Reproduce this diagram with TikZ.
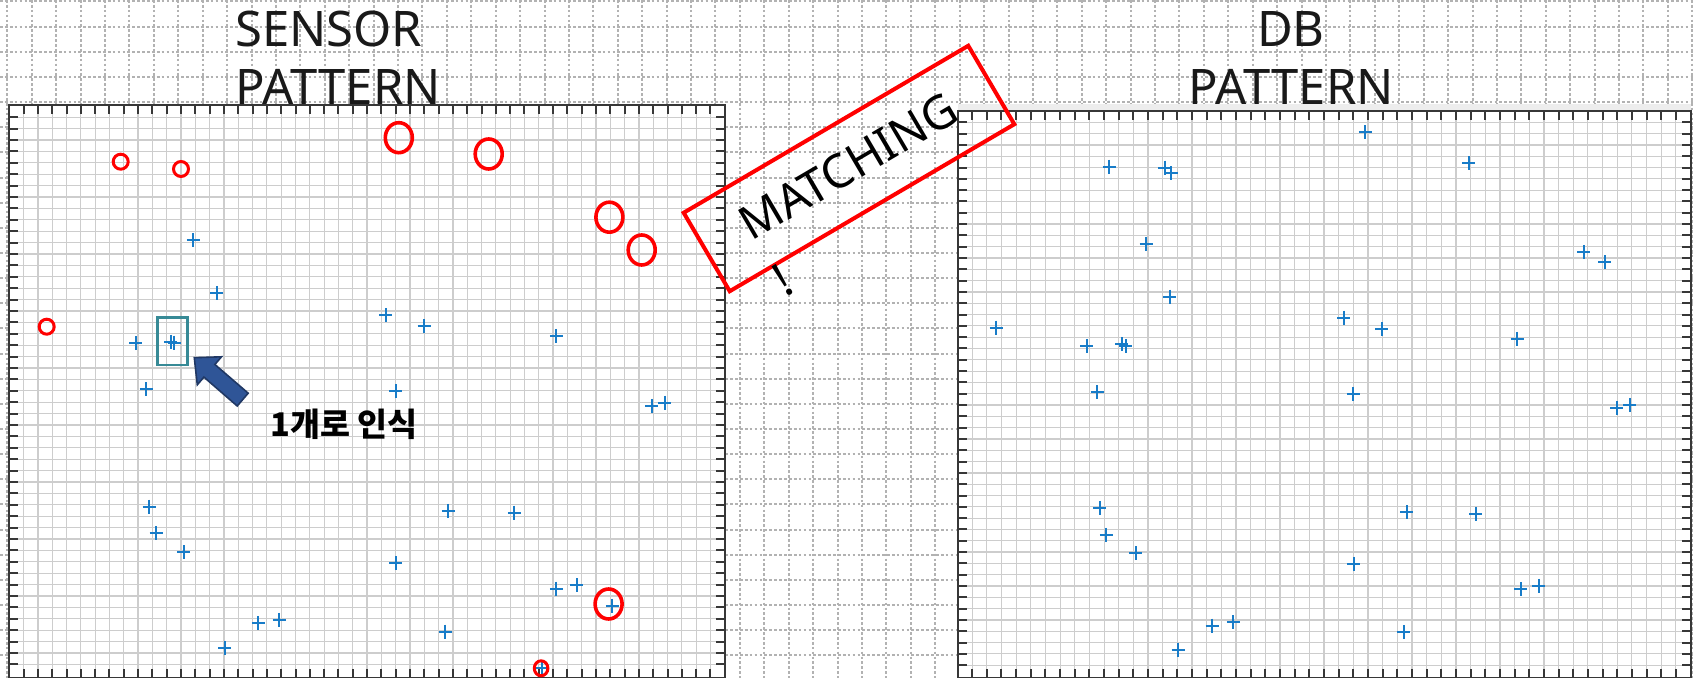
\documentclass[tikz,border=0pt]{standalone}
\usepackage{fontspec}
\setmainfont{Noto Sans}
\newfontfamily\krfont{Noto Sans CJK KR}
\definecolor{dotgray}{RGB}{178,178,178}
\definecolor{gridgray}{RGB}{205,205,205}
\definecolor{axisgray}{RGB}{55,55,55}
\definecolor{crossblue}{RGB}{24,124,200}
\definecolor{tealbox}{RGB}{55,138,150}
\definecolor{arrowfill}{RGB}{47,85,151}
\definecolor{arrowedge}{RGB}{32,56,100}
\begin{document}
\begin{tikzpicture}[x=0.5pt,y=-0.5pt,
  dotline/.style={dotgray, line width=1pt, dash pattern=on 1.35pt off 1.1pt},
  gridline/.style={gridgray, line width=0.6pt},
  tickline/.style={axisgray, line width=1pt},
  frameline/.style={axisgray, line width=1pt},
  crossline/.style={crossblue, line width=1pt},
  bigring/.style={red, line width=1.8pt},
  smallring/.style={red, line width=1.5pt},
  titletext/.style={font=\fontsize{24.5pt}{29pt}\selectfont, inner sep=0pt, text=black!90},
  matchtext/.style={font=\fontsize{23.3pt}{27pt}\selectfont, inner sep=0pt, text=black},
  notetext/.style={font=\krfont\bfseries\fontsize{16.3pt}{19pt}\selectfont, inner sep=0pt, text=black},
  pcross/.pic={\draw[crossline] (-6.5,0) -- (6.5,0) (0,-7) -- (0,7);}
]
\useasboundingbox (0,0) rectangle (1694,678);
\fill[white] (0,0) rectangle (1694,678);
% background dotted grid
\foreach \k in {0,...,26} \draw[dotline] (0,{1.5+25.15*\k}) -- (1694,{1.5+25.15*\k});
\foreach \k in {0,...,69} \draw[dotline] ({7.3+24.42*\k},0) -- ({7.3+24.42*\k},678);

% ---------- left panel ----------
\fill[white] (9.3,105) rectangle (725,678.5);
\begin{scope}
\clip (9.3,105) rectangle (725,678.5);
\foreach \i in {1,...,49} \draw[gridline] ({9.3+14.31*\i},105) -- ({9.3+14.31*\i},678.5);
\foreach \j in {0,...,48} \draw[gridline] (9.3,{117.3+11.4*\j}) -- (725,{117.3+11.4*\j});
\end{scope}
\foreach \i in {1,...,49} {
  \draw[tickline] ({9.3+14.31*\i},105) -- ({9.3+14.31*\i},114);
  \draw[tickline] ({9.3+14.31*\i},678.5) -- ({9.3+14.31*\i},669.5);
}
\foreach \j in {0,...,48} {
  \draw[tickline] (9.3,{117.3+11.4*\j}) -- (18.3,{117.3+11.4*\j});
  \draw[tickline] (725,{117.3+11.4*\j}) -- (716,{117.3+11.4*\j});
}
\draw[frameline] (9.3,105) rectangle (725,678.5);

% ---------- right panel ----------
\fill[gray!14] (957.5,104) rectangle (1690.5,110.7);
\fill[white] (957.5,110.7) rectangle (1690.5,678.5);
\begin{scope}
\clip (957.5,110.7) rectangle (1690.5,678.5);
\foreach \i in {1,...,49} \draw[gridline] ({957.5+14.66*\i},110.7) -- ({957.5+14.66*\i},678.5);
\foreach \j in {0,...,48} \draw[gridline] (957.5,{122.3+11.31*\j}) -- (1690.5,{122.3+11.31*\j});
\end{scope}
\foreach \i in {1,...,49} {
  \draw[tickline] ({957.5+14.66*\i},110.7) -- ({957.5+14.66*\i},119.7);
  \draw[tickline] ({957.5+14.66*\i},678.5) -- ({957.5+14.66*\i},669.5);
}
\foreach \j in {0,...,48} {
  \draw[tickline] (957.5,{122.3+11.31*\j}) -- (966.5,{122.3+11.31*\j});
  \draw[tickline] (1690.5,{122.3+11.31*\j}) -- (1681.5,{122.3+11.31*\j});
}
\draw[frameline] (957.5,110.7) rectangle (1690.5,678.5);

% ---------- crosses ----------
\foreach \x/\y in {193.4/239.8, 216.5/293, 385.5/315.3, 424/326.5, 556.4/336,
  135.5/343.5, 170.7/341.7, 174/342.7, 146/389.3, 395.8/391.5, 651.8/406, 664.8/402.7,
  149/506.7, 156/533.3, 183.9/552.3, 448.3/511, 514.4/512.7, 395.7/563.3,
  556.4/588.7, 576.5/585.2, 612.4/606, 258.4/623.3, 279/620, 445/631.7, 224.9/648.3, 542/668.3}
  \pic at (\x,\y) {pcross};
\foreach \x/\y in {1365.3/132.3, 1109/166.7, 1164.5/167.7, 1171.2/173.3, 1468.7/163.3,
  1146/244, 1583.6/252.3, 1604.9/262.3, 1169.7/296.7, 996/327.7, 1343.9/317.7, 1381.9/329.3,
  1086.7/346, 1121.8/344.3, 1125.6/346, 1517.2/339, 1097.1/392.3, 1353.4/394,
  1616.8/408.3, 1629.6/405, 1099.8/507.8, 1106.3/534.8, 1135.5/553.2, 1406.7/512.1,
  1475.8/514.3, 1353.7/564, 1520.8/589.3, 1538.6/586, 1212.1/625.7, 1233.3/622.3,
  1403.9/632.3, 1178/650.3}
  \pic at (\x,\y) {pcross};

% ---------- red rings ----------
\foreach \x/\y in {398.8/137.7, 488.7/154, 609.4/217.2, 641.7/250, 608.6/604}
  \draw[bigring] (\x,\y) ellipse [x radius=13.5, y radius=15];
\foreach \x/\y in {120.7/161.7, 181/169, 46.7/326.7}
  \draw[smallring] (\x,\y) circle [radius=7.5];
\draw[smallring] (541.1,668.3) ellipse [x radius=6.8, y radius=7.5];

% ---------- highlight box, block arrow, note ----------
\draw[tealbox, line width=1.35pt] (157.7,317.7) rectangle (187.7,365);
\draw[fill=arrowfill, draw=arrowedge, line width=0.8pt, line join=miter]
  (194.3,357.7) -- (221.5,356.8) -- (214.9,364.5) -- (248.2,393.2)
  -- (237.2,406) -- (203.9,377.1) -- (197.3,384.8) -- cycle;
\node[notetext, anchor=base west] (note) at (270,437) {1개로 인식};

% ---------- titles ----------
\node[titletext, anchor=base west] (senA) at (235,46.7) {SENSOR};
\node[titletext, anchor=base west] (senB) at (235,105) {PATTERN};
\node[titletext, anchor=base] (dbA) at (1291,46.7) {DB};
\node[titletext, anchor=base] (dbB) at (1291,105) {PATTERN};

% ---------- MATCHING stamp ----------
\node[draw=red, line width=2pt, rotate=30.4, minimum width=165pt, minimum height=45.5pt, inner sep=0pt] (matchbox) at (849,168.5) {};
\node[matchtext, rotate=30.4, anchor=base west] (matchA) at (751.5,242.1) {MATCHING};
\node[matchtext, rotate=30.4, anchor=base west] (matchB) at (785.5,298.2) {!};
\end{tikzpicture}
\end{document}
